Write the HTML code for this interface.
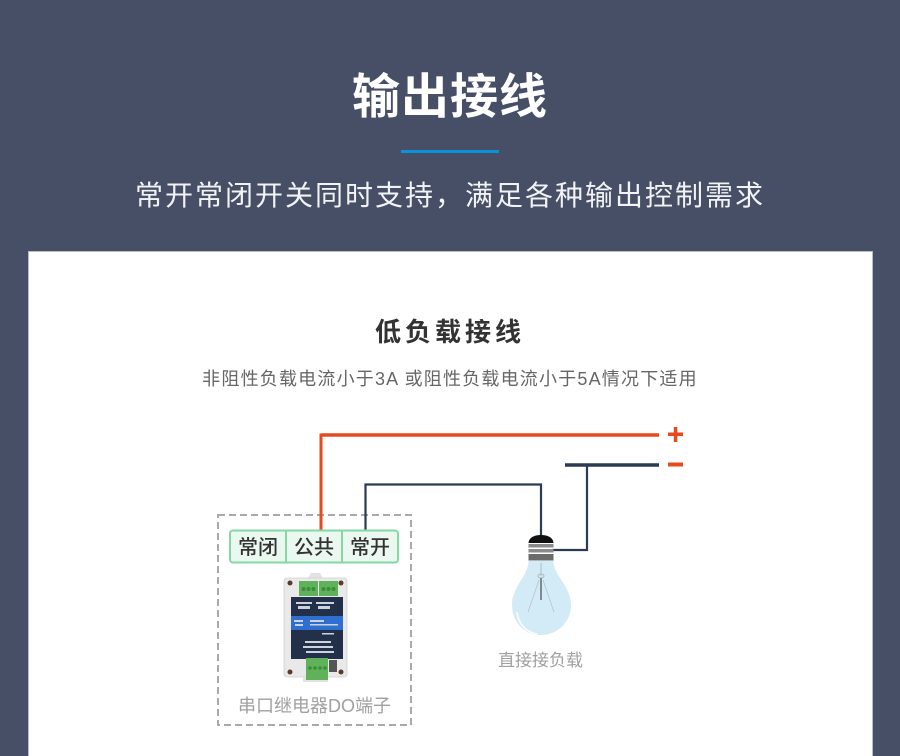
<!DOCTYPE html>
<html>
<head>
<meta charset="utf-8">
<style>
  html,body{margin:0;padding:0;width:900px;height:756px;overflow:hidden;}
  body{background:#474f66;position:relative;
       font-family:"Liberation Sans","Noto Sans CJK SC",sans-serif;}
  .abs{position:absolute;white-space:nowrap;}
  .title{left:0;width:900px;top:74px;text-align:center;font-size:48px;line-height:48px;font-weight:bold;color:#fff;letter-spacing:1px;}
  .bar{left:401px;top:150px;width:98px;height:3px;background:#0b92d8;}
  .sub{left:0;width:900px;top:182px;text-align:center;font-size:28px;line-height:28px;color:#f2f3f5;letter-spacing:2px;}
  .card{left:29px;top:252px;width:843px;height:504px;background:#fff;box-shadow:0 0 0 1px #b9bdc9;}
  .h2{left:0;width:900px;top:319px;text-align:center;font-size:26px;line-height:26px;font-weight:bold;color:#333;letter-spacing:4px;}
  .desc{left:0;width:900px;top:370px;text-align:center;font-size:18px;line-height:18px;color:#666;letter-spacing:1.2px;}
  svg{position:absolute;left:0;top:0;}
</style>
</head>
<body>
<div class="abs title">输出接线</div>
<div class="abs bar"></div>
<div class="abs sub">常开常闭开关同时支持，满足各种输出控制需求</div>
<div class="abs card"></div>
<div class="abs h2">低负载接线</div>
<div class="abs desc">非阻性负载电流小于3A 或阻性负载电流小于5A情况下适用</div>

<svg width="900" height="756" viewBox="0 0 900 756" xmlns="http://www.w3.org/2000/svg">
  <!-- dashed box -->
  <rect x="218" y="515" width="193" height="210" fill="none" stroke="#a9a9a9" stroke-width="2" stroke-dasharray="7 4"/>

  <!-- red wire -->
  <polyline points="321,530 321,435 659,435" fill="none" stroke="#e8491d" stroke-width="3"/>
  <line x1="321" y1="435" x2="659" y2="435" stroke="#e8491d" stroke-width="3.5"/>
  <!-- plus -->
  <rect x="668" y="432.5" width="15" height="3.5" fill="#e8491d"/>
  <rect x="673.8" y="427" width="3.5" height="15" fill="#e8491d"/>

  <!-- dark wire from NO to bulb -->
  <polyline points="365.5,530 365.5,484.5 541,484.5 541,536" fill="none" stroke="#2c3a52" stroke-width="2.2"/>
  <!-- negative rail -->
  <line x1="565" y1="465" x2="659" y2="465" stroke="#2c3a52" stroke-width="3.5"/>
  <polyline points="587,465 587,550 552,550" fill="none" stroke="#2c3a52" stroke-width="2.2"/>
  <!-- minus -->
  <rect x="668" y="462.5" width="15" height="4" fill="#e8491d"/>

  <!-- terminal labels -->
  <rect x="230" y="530.5" width="168" height="32" rx="3" ry="3" fill="#ebf8f0" stroke="#85d8a6" stroke-width="2"/>
  <line x1="286" y1="531" x2="286" y2="562" stroke="#85d8a6" stroke-width="2"/>
  <line x1="342" y1="531" x2="342" y2="562" stroke="#85d8a6" stroke-width="2"/>
  <g font-family="Liberation Sans, Noto Sans CJK SC, sans-serif" font-size="20" fill="#333" text-anchor="middle" font-weight="500">
    <text x="258" y="554">常闭</text>
    <text x="314" y="554">公共</text>
    <text x="370" y="554">常开</text>
  </g>

  <!-- relay device -->
  <g>
    <path d="M307,580 L311,573 L320,573 L324,580 Z" fill="#e2e2e2"/>
    <rect x="284" y="578" width="63" height="99" rx="3" fill="#e9e9e9" stroke="#d0d0d0" stroke-width="0.8"/>
    <rect x="303" y="675" width="25" height="7" fill="#e2e2e2"/>
    <!-- top terminals -->
    <rect x="299" y="581" width="19" height="15" fill="#5fb25a"/>
    <rect x="319" y="581" width="19" height="15" fill="#5fb25a"/>
    <g fill="#3d8c3a">
      <circle cx="303.5" cy="589" r="2"/><circle cx="308.5" cy="589" r="2"/><circle cx="313.5" cy="589" r="2"/>
      <circle cx="323.5" cy="589" r="2"/><circle cx="328.5" cy="589" r="2"/><circle cx="333.5" cy="589" r="2"/>
    </g>
    <!-- body -->
    <rect x="291" y="597" width="52" height="62" fill="#23304a"/>
    <rect x="291" y="616" width="52" height="14" fill="#2f6fcf"/>
    <g fill="#cdd3dd">
      <rect x="296" y="602" width="16" height="2"/><rect x="316" y="602" width="18" height="2"/>
      <rect x="298" y="606" width="12" height="3"/><rect x="318" y="606" width="12" height="3"/>
      <rect x="294" y="620" width="9" height="2"/><rect x="295" y="624" width="8" height="2"/>
      <rect x="310" y="620" width="14" height="2"/><rect x="310" y="624" width="28" height="1.5"/>
      <rect x="322" y="633" width="12" height="1.5"/>
      <rect x="305" y="641" width="26" height="2"/><rect x="303" y="646" width="30" height="2"/>
      <rect x="306" y="651" width="28" height="2"/>
    </g>
    <!-- bottom terminal -->
    <rect x="306" y="658" width="22" height="22" fill="#5fb25a"/>
    <g fill="#3d8c3a">
      <circle cx="310" cy="668" r="1.8"/><circle cx="315" cy="668" r="1.8"/><circle cx="320" cy="668" r="1.8"/><circle cx="325" cy="668" r="1.8"/>
    </g>
    <rect x="329" y="660" width="8" height="12" fill="#555"/>
    <!-- screws -->
    <g fill="#5a3a2a">
      <circle cx="290" cy="583" r="2.5"/><circle cx="341" cy="583" r="2.5"/>
      <circle cx="290" cy="672" r="2.5"/><circle cx="341" cy="672" r="2.5"/>
    </g>
  </g>
  <text x="314.5" y="712" text-anchor="middle" font-family="Liberation Sans, Noto Sans CJK SC, sans-serif" font-size="18" fill="#a0a0a0">串口继电器DO端子</text>

  <!-- bulb -->
  <g>
    <path d="M528.5,561 C528.5,576 512,586 512,605 C512,623 525,635 541,635 C557,635 571,623 571,605 C571,586 553.5,576 553.5,561 Z" fill="#d3ebf6"/>
    <path d="M517,612 C518,624 526,632 537,634" fill="none" stroke="#ffffff" stroke-width="1.6" opacity="0.9"/>
    <line x1="541" y1="563" x2="541" y2="576" stroke="#a9bcc6" stroke-width="1"/>
    <ellipse cx="541" cy="576" rx="3" ry="2" fill="none" stroke="#a9bcc6" stroke-width="1"/>
    <line x1="541" y1="578" x2="541" y2="600" stroke="#7f8a90" stroke-width="2"/>
    <line x1="539" y1="580" x2="528" y2="612" stroke="#b4c4cc" stroke-width="0.8"/>
    <line x1="543" y1="580" x2="554" y2="612" stroke="#b4c4cc" stroke-width="0.8"/>
    <path d="M528.5,543 C529,537 535,535 541,535 C547,535 553,537 553.5,543 Z" fill="#111"/>
    <rect x="528.5" y="544" width="25" height="3.5" fill="#8a8a8a"/>
    <rect x="528.5" y="549" width="25" height="3.5" fill="#8a8a8a"/>
    <rect x="528.5" y="554" width="25" height="6.5" fill="#6b6b6b"/>
  </g>
  <text x="540.5" y="666" text-anchor="middle" font-family="Liberation Sans, Noto Sans CJK SC, sans-serif" font-size="17" fill="#a0a0a0">直接接负载</text>
</svg>
</body>
</html>
